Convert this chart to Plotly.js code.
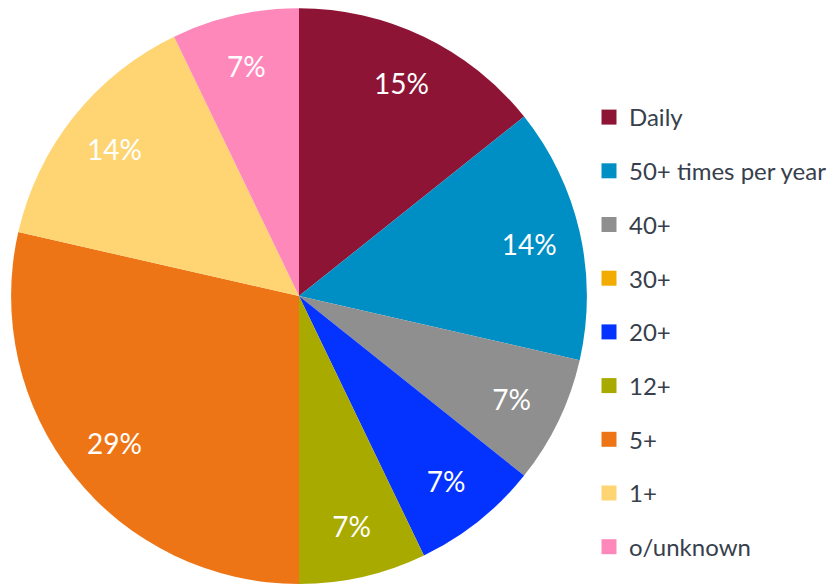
<!DOCTYPE html>
<html>
<head>
<meta charset="utf-8">
<script src="https://cdn.plot.ly/plotly-3.0.1.min.js"></script>
<style>html,body{margin:0;padding:0;background:#fff;}#chart{width:835px;height:584px;}</style>
</head>
<body>
<div id="chart"></div>
<script>
const categories = ["Daily", "50+ times per year", "40+", "30+", "20+", "12+", "5+", "1+", "0/unknown"];
const counts = [2, 2, 1, 0, 1, 1, 4, 2, 1];
const percentLabels = ["15%", "14%", "7%", "", "7%", "7%", "29%", "14%", "7%"];
const legendLabels = ["Daily", "50+ times per year", "40+", "30+", "20+", "12+", "5+", "1+", "o/unknown"];
const colors = ["#8E1436", "#008FC4", "#8F8F8F", "#F2AC00", "#0433FF", "#A8AA00", "#EE7516", "#FED572", "#FF88BB"];

const pieDomain = {x: [11/835, 587/835], y: [0, 0.986]};

const pie = {
  type: "pie",
  labels: categories,
  values: counts,
  textinfo: "none",
  sort: false,
  direction: "clockwise",
  rotation: 0,
  marker: {colors: colors, line: {width: 0}},
  hoverinfo: "label+percent",
  showlegend: false,
  domain: pieDomain
};

// transparent ring carrying the percentage labels (places them near the rim)
const labelRing = {
  type: "pie",
  labels: categories,
  values: counts,
  text: percentLabels,
  textinfo: "text",
  textposition: "inside",
  insidetextorientation: "horizontal",
  hole: 0.64,
  sort: false,
  direction: "clockwise",
  rotation: 0,
  marker: {colors: categories.map(() => "rgba(0,0,0,0)"), line: {width: 0}},
  textfont: {family: "Lato", size: 28, color: "#ffffff"},
  hoverinfo: "skip",
  showlegend: false,
  domain: pieDomain
};

const legendTraces = legendLabels.map((name, i) => ({
  type: "scatter",
  mode: "markers",
  x: [null], y: [null],
  name: name,
  legendgroup: "g" + i,
  marker: {symbol: "square", size: 15, color: colors[i]},
  showlegend: true,
  hoverinfo: "skip"
}));

const layout = {
  width: 835, height: 584,
  margin: {l: 0, r: 0, t: 0, b: 0},
  paper_bgcolor: "#ffffff",
  plot_bgcolor: "rgba(0,0,0,0)",
  xaxis: {visible: false},
  yaxis: {visible: false},
  showlegend: true,
  legend: {
    x: 589/835, xanchor: "left",
    y: 1 - 95/584, yanchor: "top",
    font: {family: "Lato", size: 24, color: "#373F4C"},
    tracegroupgap: 19.5,
    bgcolor: "rgba(0,0,0,0)"
  }
};

Plotly.newPlot("chart", [pie, labelRing].concat(legendTraces), layout, {displayModeBar: false, staticPlot: true});
</script>
</body>
</html>
